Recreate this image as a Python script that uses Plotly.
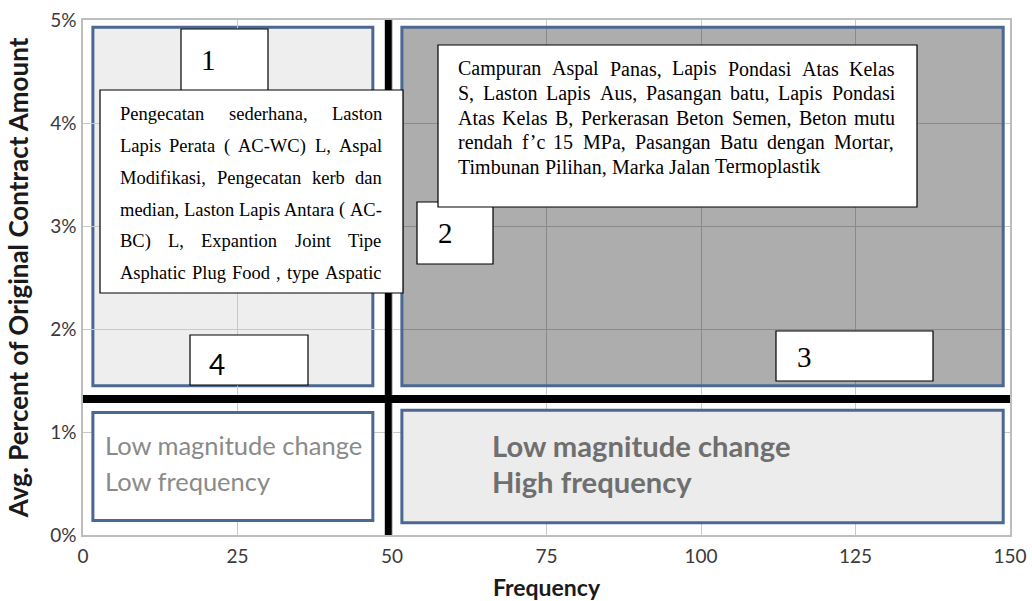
import plotly.graph_objects as go

# ------------------------------------------------------------------ data
freq_range = [0, 150]
pct_range = [0, 5]
x_ticks = [0, 25, 50, 75, 100, 125, 150]
x_tick_labels = ["0", "25", "50", "75", "100", "125", "150"]
y_ticks = [0, 1, 2, 3, 4, 5]
y_tick_labels = ["0%", "1%", "2%", "3%", "4%", "5%"]

freq_split = 49.4      # vertical divider (frequency)
pct_split = 1.32       # horizontal divider (avg. percent)

# quadrant panels: top-left, top-right, bottom-left, bottom-right
panel_x0 = [1.6, 51.6, 1.6, 51.6]
panel_x1 = [46.9, 148.9, 46.9, 148.9]
panel_y0 = [1.45, 1.45, 0.14, 0.12]
panel_y1 = [4.93, 4.93, 1.19, 1.21]

quadrant_ids = ["1", "2", "3", "4"]

q1_items = [
    "Pengecatan sederhana, Laston",
    "Lapis Perata ( AC-WC) L, Aspal",
    "Modifikasi, Pengecatan kerb dan",
    "median, Laston Lapis Antara ( AC-",
    "BC) L, Expantion Joint Tipe",
    "Asphatic Plug Food , type Aspatic",
]
q2_items = [
    "Campuran Aspal Panas, Lapis Pondasi Atas Kelas",
    "S, Laston Lapis Aus, Pasangan batu, Lapis Pondasi",
    "Atas Kelas B, Perkerasan Beton Semen, Beton mutu",
    "rendah f\u2019c 15 MPa, Pasangan Batu dengan Mortar,",
    "Timbunan Pilihan, Marka Jalan Termoplastik",
]
low_low_label = ["Low magnitude change", "Low frequency"]
low_high_label = ["Low magnitude change", "High frequency"]

x_title = "Frequency"
y_title = "Avg. Percent of Original Contract Amount"

# ------------------------------------------------------------------ layout geometry
W, H = 1032, 601
ML, MR, MT, MB = 83, 22, 20, 66
PW, PH = W - ML - MR, H - MT - MB


def px(xp):
    return (xp - ML) / PW


def py(yp):
    return 1 - (yp - MT) / PH


SERIF = "Liberation Serif, Times New Roman, serif"
SANS = "Lato, Calibri, sans-serif"

TIMES = {' ': 250, '!': 333, '(': 333, ')': 333, ',': 250, '-': 333, '.': 250,
         "'": 180, '\u2019': 333, '0': 500, '1': 500, '2': 500, '3': 500, '4': 500,
         '5': 500, '6': 500, '7': 500, '8': 500, '9': 500,
         'A': 722, 'B': 667, 'C': 667, 'D': 722, 'E': 611, 'F': 556, 'G': 722,
         'H': 722, 'I': 333, 'J': 389, 'K': 722, 'L': 611, 'M': 889, 'N': 722,
         'O': 722, 'P': 556, 'Q': 722, 'R': 667, 'S': 556, 'T': 611, 'U': 722,
         'V': 722, 'W': 944, 'X': 722, 'Y': 722, 'Z': 611,
         'a': 444, 'b': 500, 'c': 444, 'd': 500, 'e': 444, 'f': 333, 'g': 500,
         'h': 500, 'i': 278, 'j': 278, 'k': 500, 'l': 278, 'm': 778, 'n': 500,
         'o': 500, 'p': 500, 'q': 500, 'r': 333, 's': 389, 't': 278, 'u': 500,
         'v': 500, 'w': 722, 'x': 500, 'y': 500, 'z': 444}


def tw(s, size):
    return sum(TIMES.get(c, 500) for c in s) / 1000 * size


fig = go.Figure()
# invisible trace to establish the axes
fig.add_trace(go.Scatter(x=freq_range, y=pct_range, mode="markers",
                         marker=dict(opacity=0), hoverinfo="skip", showlegend=False,
                         cliponaxis=False))

shapes = []
BLUE = "#4a6892"
# top-left panel (below grid)
shapes.append(dict(type="rect", xref="x", yref="y", x0=panel_x0[0], x1=panel_x1[0],
                   y0=panel_y0[0], y1=panel_y1[0], fillcolor="#eeeeee",
                   line=dict(color=BLUE, width=3), layer="below"))
# top-right panel (semi-transparent dark, grid shows through)
shapes.append(dict(type="rect", xref="x", yref="y", x0=panel_x0[1], x1=panel_x1[1],
                   y0=panel_y0[1], y1=panel_y1[1], fillcolor="rgba(30,30,30,0.364)",
                   line=dict(color=BLUE, width=3), layer="above"))
# bottom-left panel
shapes.append(dict(type="rect", xref="x", yref="y", x0=panel_x0[2], x1=panel_x1[2],
                   y0=panel_y0[2], y1=panel_y1[2], fillcolor="#ffffff",
                   line=dict(color=BLUE, width=3), layer="above"))
# bottom-right panel
shapes.append(dict(type="rect", xref="x", yref="y", x0=panel_x0[3], x1=panel_x1[3],
                   y0=panel_y0[3], y1=panel_y1[3], fillcolor="#ececec",
                   line=dict(color=BLUE, width=3), layer="above"))
# dividers
shapes.append(dict(type="line", xref="x", yref="y", x0=freq_split, x1=freq_split,
                   y0=pct_range[0] - 0.02, y1=pct_range[1], line=dict(color="black", width=7),
                   layer="above"))
shapes.append(dict(type="line", xref="x", yref="y", x0=freq_range[0], x1=freq_range[1] + 1,
                   y0=pct_split, y1=pct_split, line=dict(color="black", width=8),
                   layer="above"))


def white_box(x0, y0, x1, y1):
    shapes.append(dict(type="rect", xref="paper", yref="paper", x0=px(x0), x1=px(x1),
                       y0=py(y1), y1=py(y0), fillcolor="white",
                       line=dict(color="black", width=1.2), layer="above"))


# number boxes and text boxes (order = z-order)
white_box(181, 29, 268, 100)     # "1"
white_box(100, 90, 403, 293)     # Q1 items
white_box(417, 202, 493, 264)    # "2"
white_box(438, 45, 917, 207)     # Q2 items
white_box(776, 331, 933, 381)    # "3"
white_box(190, 335, 308, 385)    # "4"

annotations = []


def word(text, xl, ymid, size, family=SERIF, color="black", bold=False):
    annotations.append(dict(text=("<b>%s</b>" % text) if bold else text,
                            xref="paper", yref="paper", x=px(xl), y=py(ymid),
                            xanchor="left", yanchor="middle", showarrow=False,
                            borderwidth=0, borderpad=0,
                            font=dict(family=family, size=size, color=color)))


def justified(lines, left, right, base0, step, size, justify_last):
    for i, line in enumerate(lines):
        words = line.split(" ")
        base = base0 + i * step
        ymid = base - 0.34 * size
        last = i == len(lines) - 1
        if len(words) > 1 and (justify_last or not last):
            total = sum(tw(w, size) for w in words)
            gap = (right - left - total) / (len(words) - 1)
        else:
            gap = tw(" ", size)
        x = left
        for w in words:
            word(w, x, ymid, size)
            x += tw(w, size) + gap


justified(q1_items, 120, 382, 120.7, 31.7, 18.5, True)
justified(q2_items, 458, 895, 75.7, 24.4, 20, False)

# quadrant numbers
word(quadrant_ids[0], 201, 60, 29)
word(quadrant_ids[1], 438, 233, 29)
word(quadrant_ids[2], 797, 357, 29)
word(quadrant_ids[3], 209, 364, 28, family=SANS)

# bottom quadrant labels
for i, t in enumerate(low_low_label):
    word(t, 105, [445, 481][i], 25.5, family=SANS, color="#8a8a8a")
for i, t in enumerate(low_high_label):
    word(t, 492, [445, 481][i], 29.2, family=SANS, color="#6f6f6f", bold=True)

fig.update_layout(
    width=W, height=H,
    margin=dict(l=ML, r=MR, t=MT, b=MB, autoexpand=False),
    paper_bgcolor="white", plot_bgcolor="white",
    shapes=shapes, annotations=annotations,
    showlegend=False,
)
fig.update_xaxes(range=freq_range, tickvals=x_ticks, ticktext=x_tick_labels,
                 showgrid=True, gridcolor="#c8c8c8", gridwidth=1, zeroline=False,
                 showline=True, mirror=True, linecolor="#bdbdbd", linewidth=1.5,
                 ticks="", tickfont=dict(family=SANS, size=19, color="#3a3a3a"),
                 ticklabelstandoff=3,
                 title=dict(text="<b>%s</b>" % x_title, standoff=15,
                            font=dict(family=SANS, size=23, color="#1a1a1a")))
fig.update_yaxes(range=pct_range, tickvals=y_ticks, ticktext=y_tick_labels,
                 showgrid=True, gridcolor="#c8c8c8", gridwidth=1, zeroline=False,
                 showline=True, mirror=True, linecolor="#bdbdbd", linewidth=1.5,
                 ticks="", tickfont=dict(family=SANS, size=19, color="#3a3a3a"),
                 ticklabelstandoff=1,
                 title=dict(text="<b>%s</b>" % y_title, standoff=14,
                            font=dict(family=SANS, size=26, color="#1a1a1a")))

# remove the default 8px page margin so the figure sits at the window's corner
fig.write_html("out.html",
               config={"displayModeBar": False},
               post_script="document.body.style.margin='0';"
                           "document.body.style.overflow='hidden';")
